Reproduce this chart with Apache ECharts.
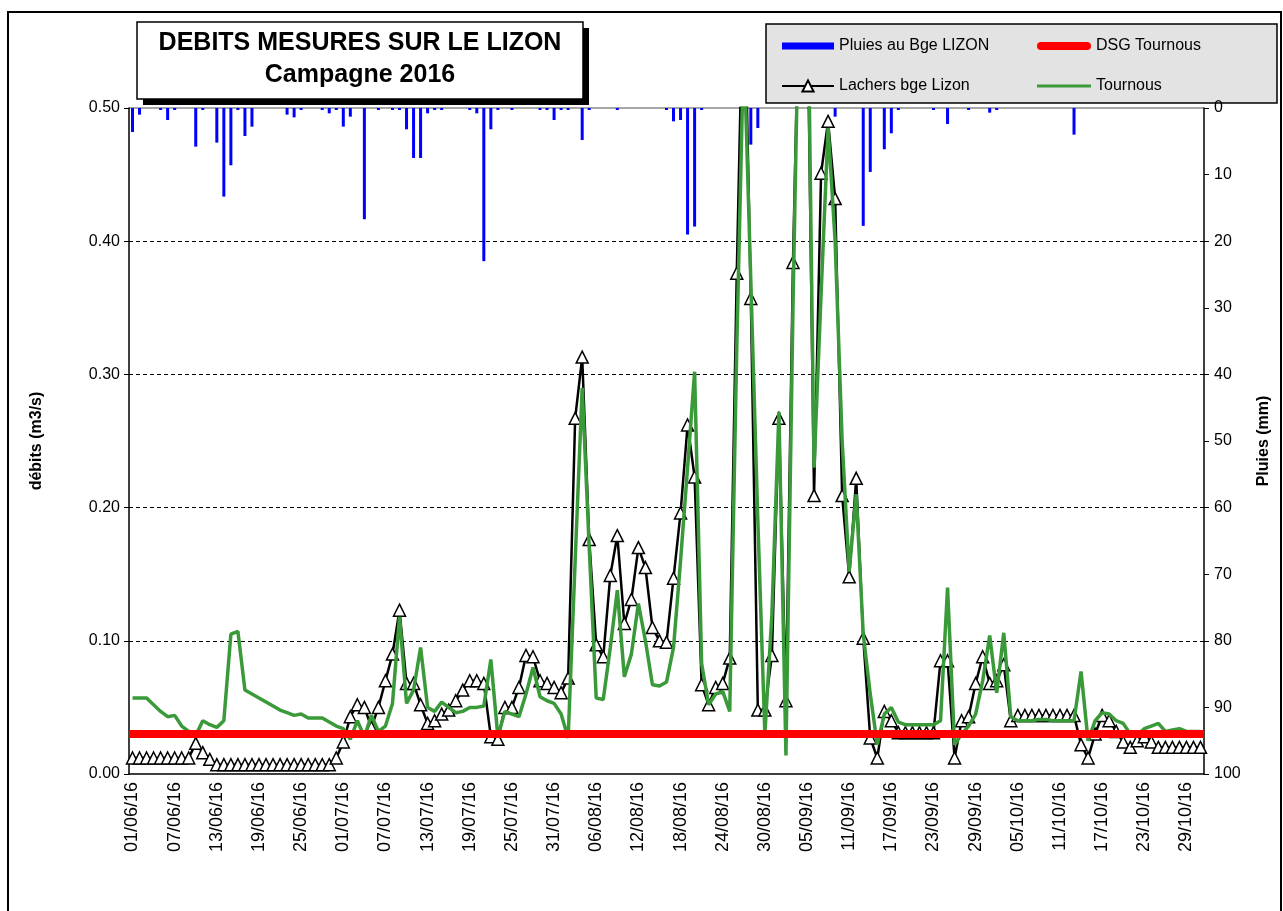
<!DOCTYPE html>
<html>
<head>
<meta charset="utf-8">
<title>Debits mesures sur le Lizon - 2016</title>
<script src="https://cdn.jsdelivr.net/npm/echarts@6/dist/echarts.min.js"></script>
<style>
  html, body { margin: 0; padding: 0; background: #fff; }
  #chart { width: 1283px; height: 911px; }
</style>
</head>
<body>
<div id="chart"></div>
<script>
// categories : one per day, 01/06/16 -> 31/10/16
var months = [['06', 30], ['07', 31], ['08', 31], ['09', 30], ['10', 31]];
var dates = [];
months.forEach(function (m) {
    for (var d = 1; d <= m[1]; d++) {
        dates.push((d < 10 ? '0' + d : '' + d) + '/' + m[0] + '/16');
    }
});

// Lachers bge Lizon (m3/s)
var lachers = [
    // juin
    0.012, 0.012, 0.012, 0.012, 0.012, 0.012, 0.012, 0.012, 0.012, 0.023,
    0.016, 0.011, 0.007, 0.007, 0.007, 0.007, 0.007, 0.007, 0.007, 0.007,
    0.007, 0.007, 0.007, 0.007, 0.007, 0.007, 0.007, 0.007, 0.007, 0.012,
    // juillet
    0.024, 0.043, 0.052, 0.050, 0.035, 0.050, 0.070, 0.090, 0.123, 0.068,
    0.068, 0.052, 0.038, 0.040, 0.045, 0.048, 0.055, 0.063, 0.070, 0.070,
    0.068, 0.028, 0.026, 0.050, 0.050, 0.065, 0.089, 0.088, 0.070, 0.068,
    0.065,
    // aout
    0.061, 0.072, 0.267, 0.313, 0.176, 0.097, 0.088, 0.149, 0.179, 0.113,
    0.131, 0.170, 0.155, 0.110, 0.100, 0.099, 0.147, 0.196, 0.262, 0.223,
    0.067, 0.052, 0.065, 0.068, 0.087, 0.376, 0.620, 0.357, 0.048, 0.048,
    0.089,
    // septembre
    0.267, 0.055, 0.384, 0.620, 0.600, 0.209, 0.451, 0.490, 0.432, 0.209,
    0.148, 0.222, 0.102, 0.027, 0.012, 0.047, 0.040, 0.031, 0.031, 0.031,
    0.031, 0.031, 0.031, 0.085, 0.085, 0.012, 0.040, 0.043, 0.068, 0.088,
    // octobre
    0.068, 0.070, 0.082, 0.040, 0.044, 0.044, 0.044, 0.044, 0.044, 0.044,
    0.044, 0.044, 0.044, 0.022, 0.012, 0.030, 0.044, 0.040, 0.032, 0.024,
    0.020, 0.025, 0.028, 0.024, 0.020, 0.020, 0.020, 0.020, 0.020, 0.020,
    0.020
];

// Tournous (m3/s)
var tournous = [
    // juin
    0.057, 0.057, 0.057, 0.052, 0.047, 0.043, 0.044, 0.036, 0.032, 0.029,
    0.040, 0.037, 0.035, 0.040, 0.105, 0.107, 0.063, 0.060, 0.057, 0.054,
    0.051, 0.048, 0.046, 0.044, 0.045, 0.042, 0.042, 0.042, 0.039, 0.036,
    // juillet
    0.034, 0.026, 0.040, 0.028, 0.044, 0.032, 0.036, 0.053, 0.118, 0.053,
    0.063, 0.095, 0.050, 0.047, 0.054, 0.050, 0.046, 0.047, 0.050, 0.050,
    0.051, 0.086, 0.028, 0.047, 0.045, 0.043, 0.060, 0.080, 0.058, 0.055,
    0.053,
    // aout
    0.045, 0.027, 0.160, 0.290, 0.170, 0.057, 0.056, 0.095, 0.138, 0.073,
    0.090, 0.128, 0.100, 0.067, 0.066, 0.069, 0.095, 0.160, 0.230, 0.302,
    0.083, 0.052, 0.060, 0.062, 0.047, 0.320, 0.550, 0.370, 0.190, 0.030,
    0.120,
    // septembre
    0.272, 0.014, 0.350, 0.630, 0.640, 0.230, 0.360, 0.485, 0.400, 0.250,
    0.152, 0.210, 0.105, 0.060, 0.022, 0.045, 0.050, 0.039, 0.037, 0.037,
    0.037, 0.037, 0.037, 0.040, 0.140, 0.022, 0.030, 0.036, 0.045, 0.070,
    // octobre
    0.104, 0.061, 0.106, 0.043, 0.040, 0.040, 0.040, 0.041, 0.041, 0.040,
    0.040, 0.040, 0.040, 0.077, 0.025, 0.040, 0.046, 0.045, 0.040, 0.038,
    0.030, 0.029, 0.034, 0.036, 0.038, 0.032, 0.033, 0.034, 0.032, 0.032,
    0.032
];

// Pluies au Bge LIZON (mm)
var pluies = [
    // juin
    3.6, 1.0, 0, 0, 0.3, 1.8, 0.3, 0, 0, 5.8,
    0.3, 0, 5.2, 13.3, 8.6, 0.3, 4.2, 2.8, 0, 0,
    0, 0, 1.0, 1.4, 0.3, 0, 0, 0.3, 0.8, 0.3,
    // juillet
    2.8, 1.3, 0, 16.7, 0, 0.3, 0, 0.3, 0.3, 3.2,
    7.5, 7.5, 0.8, 0.3, 0.3, 0, 0, 0, 0.3, 0.8,
    23, 3.2, 0.3, 0, 0.3, 0, 0, 0, 0.3, 0.3,
    1.8,
    // aout
    0.3, 0.3, 0, 4.8, 0.3, 0, 0, 0, 0.3, 0,
    0, 0, 0, 0, 0, 0.3, 2.0, 1.8, 19, 17.8,
    0.3, 0, 0, 0, 0, 0, 0, 5.5, 3.0, 0,
    0,
    // septembre
    0, 0, 0, 0, 0, 0, 0, 0, 1.3, 0,
    0, 0, 17.7, 9.6, 0, 6.2, 3.8, 0.3, 0, 0,
    0, 0, 0.3, 0, 2.4, 0, 0, 0.3, 0, 0,
    // octobre
    0.7, 0.3, 0, 0, 0, 0, 0, 0, 0, 0,
    0, 0, 4.0, 0, 0, 0, 0, 0, 0, 0,
    0, 0, 0, 0, 0, 0, 0, 0, 0, 0,
    0
];

// DSG Tournous (m3/s)
var dsgTournous = 0.03;

var debitTicks = [0, 0.5, 0.1];
var pluieTicks = [0, 100, 10];

var font = '"Liberation Sans", Arial, sans-serif';

var myChart = echarts.init(document.getElementById('chart'));

var option = {
    animation: false,
    backgroundColor: '#fff',
    textStyle: { fontFamily: font, color: '#000' },
    grid: { left: 129, right: 79, top: 108, bottom: 137, outerBoundsMode: 'none' },
    graphic: [
        // cadre general
        { type: 'rect', shape: { x: 8, y: 12, width: 1273, height: 1000 },
          style: { fill: 'none', stroke: '#000', lineWidth: 2 }, silent: true },
        // cartouche du titre (ombre + boite)
        { type: 'rect', shape: { x: 143, y: 28, width: 446, height: 77 },
          style: { fill: '#000' }, silent: true },
        { type: 'rect', shape: { x: 137, y: 22, width: 446, height: 77 },
          style: { fill: '#fff', stroke: '#000', lineWidth: 1.5 }, silent: true },
        { type: 'text', silent: true,
          style: { x: 360, y: 43, text: 'DEBITS MESURES SUR LE LIZON', textAlign: 'center', textVerticalAlign: 'middle',
                   font: 'bold 25px "Liberation Sans Narrow", "Liberation Sans", Arial', fill: '#000' } },
        { type: 'text', silent: true,
          style: { x: 360, y: 75, text: 'Campagne 2016', textAlign: 'center', textVerticalAlign: 'middle',
                   font: 'bold 25px "Liberation Sans Narrow", "Liberation Sans", Arial', fill: '#000' } },
        // fond de la legende
        { type: 'rect', shape: { x: 766, y: 24, width: 511, height: 79 },
          style: { fill: '#e3e3e3', stroke: '#000', lineWidth: 1.5 }, silent: true },
        // bord haut de la zone de trace
        { type: 'line', shape: { x1: 129, y1: 108, x2: 1204, y2: 108 },
          style: { stroke: '#8a8a8a', lineWidth: 1.5 }, silent: true }
    ],
    legend: [
        {
            left: 776, top: 33, orient: 'vertical', itemGap: 24,
            itemWidth: 52, itemHeight: 14,
            textStyle: { fontSize: 16, color: '#000', fontFamily: font },
            data: [{ name: 'Pluies au Bge LIZON', icon: 'path://M0,0H52V7H0Z' }, 'Lachers bge Lizon']
        },
        {
            left: 1032, top: 33, orient: 'vertical', itemGap: 24,
            itemWidth: 54, itemHeight: 14,
            textStyle: { fontSize: 16, color: '#000', fontFamily: font },
            data: [{ name: 'DSG Tournous', icon: 'path://M4,0H50A4,4,0,0,1,50,8H4A4,4,0,0,1,4,0Z' },
                   { name: 'Tournous', icon: 'path://M0,0H54V3H0Z' }]
        }
    ],
    xAxis: {
        type: 'category',
        data: dates,
        boundaryGap: true,
        axisLine: { lineStyle: { color: '#000', width: 1.5 } },
        axisTick: { interval: 0, length: 5, lineStyle: { color: '#000' } },
        axisLabel: { interval: 5, rotate: 90, fontSize: 18, color: '#000', margin: 8, fontFamily: font },
        splitLine: { show: false }
    },
    yAxis: [
        {
            type: 'value',
            min: debitTicks[0], max: debitTicks[1], interval: debitTicks[2],
            name: 'débits (m3/s)',
            nameLocation: 'middle', nameGap: 84, nameRotate: 90,
            nameTextStyle: { fontWeight: 'bold', fontSize: 16, color: '#000', fontFamily: font },
            axisLine: { show: true, lineStyle: { color: '#000', width: 1.5 } },
            axisTick: { show: true, length: 5, lineStyle: { color: '#000' } },
            axisLabel: { fontSize: 16, color: '#000', margin: 9, fontFamily: font,
                         formatter: function (v) { return v.toFixed(2); } },
            splitLine: { show: true, showMinLine: false, showMaxLine: false,
                         lineStyle: { color: '#000', type: [4, 3], width: 1 } }
        },
        {
            type: 'value',
            position: 'right',
            inverse: true,
            min: pluieTicks[0], max: pluieTicks[1], interval: pluieTicks[2],
            name: 'Pluies (mm)',
            nameLocation: 'middle', nameGap: 52, nameRotate: 90,
            nameTextStyle: { fontWeight: 'bold', fontSize: 16, color: '#000', fontFamily: font },
            axisLine: { show: true, lineStyle: { color: '#000', width: 1.5 } },
            axisTick: { show: true, length: 5, lineStyle: { color: '#000' } },
            axisLabel: { fontSize: 16, color: '#000', margin: 10, fontFamily: font },
            splitLine: { show: false }
        }
    ],
    series: [
        {
            name: 'Pluies au Bge LIZON',
            type: 'bar',
            yAxisIndex: 1,
            data: pluies,
            barWidth: 3,
            itemStyle: { color: '#0000ff' },
            z: 1
        },
        {
            name: 'DSG Tournous',
            type: 'line',
            data: [],
            symbol: 'none',
            lineStyle: { color: '#ff0000', width: 8 },
            itemStyle: { color: '#ff0000' },
            markLine: {
                silent: true,
                symbol: 'none',
                label: { show: false },
                lineStyle: { color: '#ff0000', width: 8, type: 'solid' },
                data: [{ yAxis: dsgTournous }]
            },
            z: 2
        },
        {
            name: 'Lachers bge Lizon',
            type: 'line',
            data: lachers,
            symbol: 'triangle',
            symbolSize: 12,
            showAllSymbol: true,
            lineStyle: { color: '#000', width: 2.5 },
            itemStyle: { color: '#fff', borderColor: '#000', borderWidth: 1.5 },
            z: 3
        },
        {
            name: 'Tournous',
            type: 'line',
            data: tournous,
            symbol: 'none',
            lineStyle: { color: '#3a9a3a', width: 3.5 },
            itemStyle: { color: '#3a9a3a' },
            z: 4
        }
    ]
};

option && myChart.setOption(option);
</script>
</body>
</html>
